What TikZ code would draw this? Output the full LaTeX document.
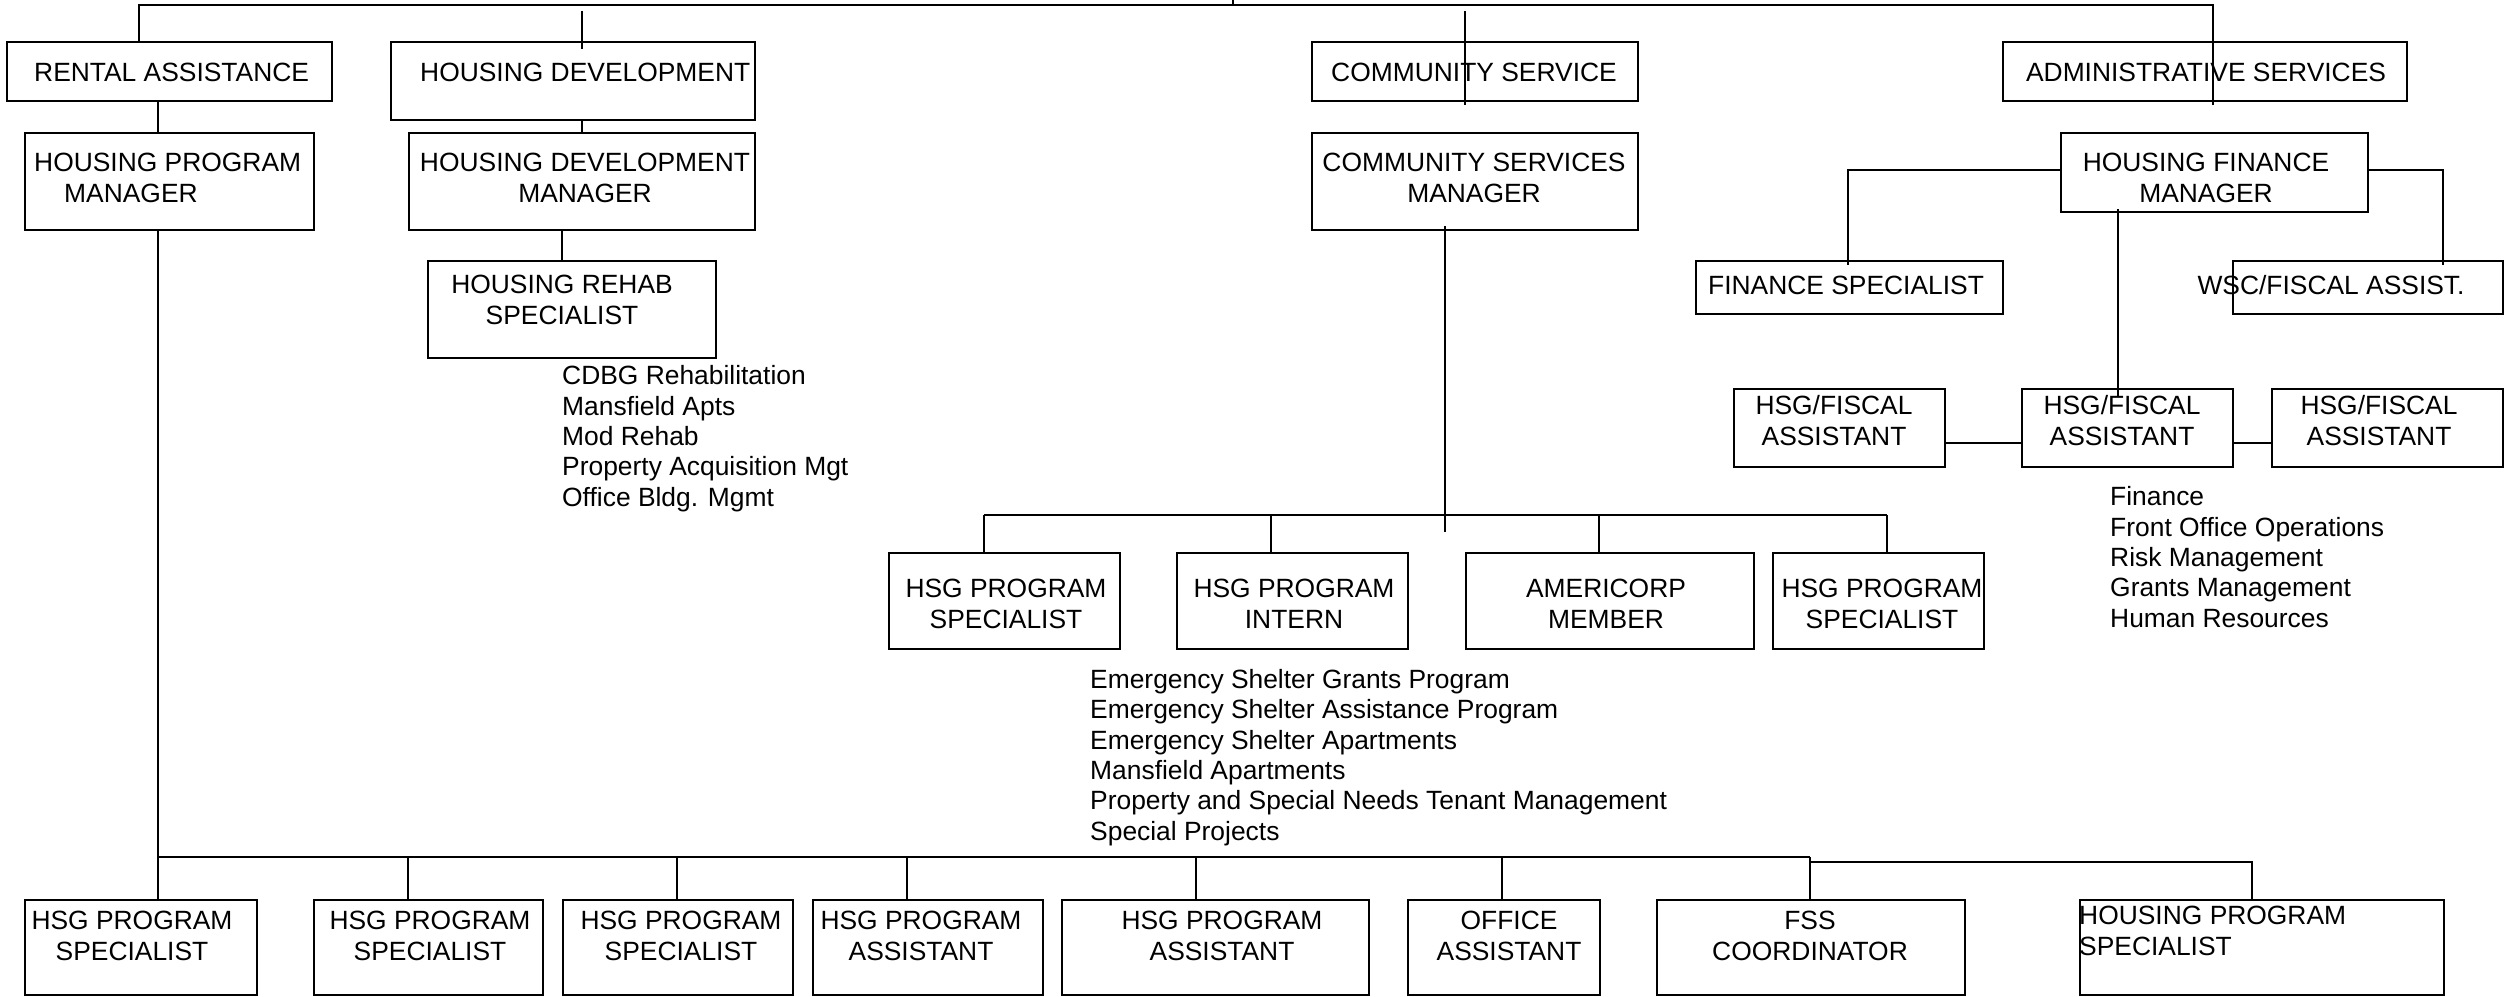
\documentclass[tikz,border=0pt]{standalone}
\usepackage{fontspec}
\setmainfont{Liberation Sans}
\usetikzlibrary{calc}
\newcommand\orgfont{\fontsize{26.4}{30.3}\selectfont}
\tikzset{
 bx/.style={draw, line width=2pt, inner sep=0pt, anchor=north west},
 lbl/.style={inner sep=0pt, anchor=base, align=center, font=\orgfont},
 lst/.style={inner sep=0pt, anchor=base west, align=left, font=\orgfont},
 conn/.style={line width=1.8pt},
 hbar/.style={line width=2.5pt},
}
\begin{document}
\begin{tikzpicture}[x=1pt,y=-1pt]
\useasboundingbox (0,0) rectangle (2518,996);
% boxes
\node[bx, minimum width=325pt, minimum height=59pt] (ra) at (6,41) {};
\node[bx, minimum width=364pt, minimum height=78pt] (hd) at (390,41) {};
\node[bx, minimum width=326pt, minimum height=59pt] (cs) at (1311,41) {};
\node[bx, minimum width=404pt, minimum height=59pt] (as) at (2002,41) {};
\node[bx, minimum width=289pt, minimum height=97pt] (hpm) at (24,132) {};
\node[bx, minimum width=346pt, minimum height=97pt] (hdm) at (408,132) {};
\node[bx, minimum width=326pt, minimum height=97pt] (csm) at (1311,132) {};
\node[bx, minimum width=307pt, minimum height=79pt] (hfm) at (2060,132) {};
\node[bx, minimum width=288pt, minimum height=97pt] (hrs) at (427,260) {};
\node[bx, minimum width=307pt, minimum height=53pt] (fs) at (1695,260) {};
\node[bx, minimum width=270pt, minimum height=53pt] (wsc) at (2232,260) {};
\node[bx, minimum width=211pt, minimum height=78pt] (hf1) at (1733,388) {};
\node[bx, minimum width=211pt, minimum height=78pt] (hf2) at (2021,388) {};
\node[bx, minimum width=231pt, minimum height=78pt] (hf3) at (2271,388) {};
\node[bx, minimum width=231pt, minimum height=96pt] (m1) at (888,552) {};
\node[bx, minimum width=231pt, minimum height=96pt] (m2) at (1176,552) {};
\node[bx, minimum width=288pt, minimum height=96pt] (m3) at (1465,552) {};
\node[bx, minimum width=211pt, minimum height=96pt] (m4) at (1772,552) {};
\node[bx, minimum width=232pt, minimum height=95pt] (b1) at (24,899) {};
\node[bx, minimum width=229pt, minimum height=95pt] (b2) at (313,899) {};
\node[bx, minimum width=230pt, minimum height=95pt] (b3) at (562,899) {};
\node[bx, minimum width=230pt, minimum height=95pt] (b4) at (812,899) {};
\node[bx, minimum width=307pt, minimum height=95pt] (b5) at (1061,899) {};
\node[bx, minimum width=192pt, minimum height=95pt] (b6) at (1407,899) {};
\node[bx, minimum width=308pt, minimum height=95pt] (b7) at (1656,899) {};
\node[bx, minimum width=364pt, minimum height=95pt] (b8) at (2079,899) {};
% texts (multi-line nodes are anchored at the baseline of their last line)
\node[lst] (t-ra) at (34,81) {RENTAL ASSISTANCE};
\node[lst] (t-hd) at (420,81) {HOUSING DEVELOPMENT};
\node[lbl] (t-cs) at (1474,81) {COMMUNITY SERVICE};
\node[lbl] (t-as) at (2206,81) {ADMINISTRATIVE SERVICES};
\node[lst] (t-hpm) at (34,202) {HOUSING PROGRAM\\\hspace*{30pt}MANAGER};
\node[lbl] (t-hdm) at (585,202) {HOUSING DEVELOPMENT\\MANAGER};
\node[lbl] (t-csm) at (1474,202) {COMMUNITY SERVICES\\MANAGER};
\node[lbl] (t-hfm) at (2206,202) {HOUSING FINANCE\\MANAGER};
\node[lbl] (t-hrs) at (562,324) {HOUSING REHAB\\SPECIALIST};
\node[lbl] (t-fs) at (1846,294) {FINANCE SPECIALIST};
\node[lbl] (t-wsc) at (2331,294) {WSC/FISCAL ASSIST.};
\node[lbl] (t-hf1) at (1834,445) {HSG/FISCAL\\ASSISTANT};
\node[lbl] (t-hf2) at (2122,445) {HSG/FISCAL\\ASSISTANT};
\node[lbl] (t-hf3) at (2379,445) {HSG/FISCAL\\ASSISTANT};
\node[lst] (l-hd) at (562,506) {CDBG Rehabilitation\\Mansfield Apts\\Mod Rehab\\Property Acquisition Mgt\\Office Bldg. Mgmt};
\node[lst] (l-as) at (2110,627) {Finance\\Front Office Operations\\Risk Management\\Grants Management\\Human Resources};
\node[lst] (l-cs) at (1090,840) {Emergency Shelter Grants Program\\Emergency Shelter Assistance Program\\Emergency Shelter Apartments\\Mansfield Apartments\\Property and Special Needs Tenant Management\\Special Projects};
\node[lbl] (t-m1) at (1006,628) {HSG PROGRAM\\SPECIALIST};
\node[lbl] (t-m2) at (1294,628) {HSG PROGRAM\\INTERN};
\node[lbl] (t-m3) at (1606,628) {AMERICORP\\MEMBER};
\node[lbl] (t-m4) at (1882,628) {HSG PROGRAM\\SPECIALIST};
\node[lbl] (t-b1) at (132,960) {HSG PROGRAM\\SPECIALIST};
\node[lbl] (t-b2) at (430,960) {HSG PROGRAM\\SPECIALIST};
\node[lbl] (t-b3) at (681,960) {HSG PROGRAM\\SPECIALIST};
\node[lbl] (t-b4) at (921,960) {HSG PROGRAM\\ASSISTANT};
\node[lbl] (t-b5) at (1222,960) {HSG PROGRAM\\ASSISTANT};
\node[lbl] (t-b6) at (1509,960) {OFFICE\\ASSISTANT};
\node[lbl] (t-b7) at (1810,960) {FSS\\COORDINATOR};
\node[lst] (t-b8) at (2079,955) {HOUSING PROGRAM\\SPECIALIST};
% connectors
\coordinate (top) at (1233,0);
\coordinate (topbar) at (1233,5);
\draw[hbar] (ra.north -| 139,0) |- (topbar) -| ($(as.south -| 2213,0)+(0,3)$);
\draw[conn] (topbar) -- (top);
\draw[conn] ($(hd.north -| 582,0)+(0,-30)$) -- ($(hd.north -| 582,0)+(0,8)$);
\draw[conn] ($(cs.north -| 1465,0)+(0,-30)$) -- ($(cs.south -| 1465,0)+(0,3)$);
\draw[conn] (ra.south -| 158,0) -- (hpm.north -| 158,0);
\draw[conn] (hd.south -| 582,0) -- (hdm.north -| 582,0);
\draw[conn] (hdm.south -| 562,0) -- (hrs.north -| 562,0);
\draw[conn] (hpm.south -| 158,0) -- (b1.north -| 158,0);
\coordinate (bbl) at (158,857);
\coordinate (bbr) at (1810,857);
\draw[hbar] (bbl) -- (bbr);
\foreach \x/\n in {408/b2,677/b3,907/b4,1196/b5,1502/b6,1810/b7}
  \draw[conn] (bbl -| \x,0) -- (\n.north -| \x,0);
\draw[conn] ($(bbr)+(0,5)$) -| (b8.north -| 2252,0);
\coordinate (mbl) at (984,515);
\coordinate (mbr) at (1887,515);
\draw[conn] ($(csm.south -| 1445,0)+(0,-5)$) -- (mbl -| 1445,0) -- ++(0,17);
\draw[hbar] (mbl) -- (mbr);
\foreach \x/\n in {984/m1,1271/m2,1599/m3,1887/m4}
  \draw[conn] (mbl -| \x,0) -- (\n.north -| \x,0);
\draw[hbar] (hfm.west |- 0,170) -| ($(fs.north -| 1848,0)+(0,5)$);
\draw[hbar] (hfm.east |- 0,170) -| ($(wsc.north -| 2443,0)+(0,5)$);
\draw[conn] ($(hfm.south -| 2118,0)+(0,-4)$) -- ($(hf2.north -| 2118,0)+(0,9)$);
\draw[hbar] (hf1.east |- 0,443) -- (hf2.west |- 0,443);
\draw[hbar] (hf2.east |- 0,443) -- (hf3.west |- 0,443);
\end{tikzpicture}
\end{document}
